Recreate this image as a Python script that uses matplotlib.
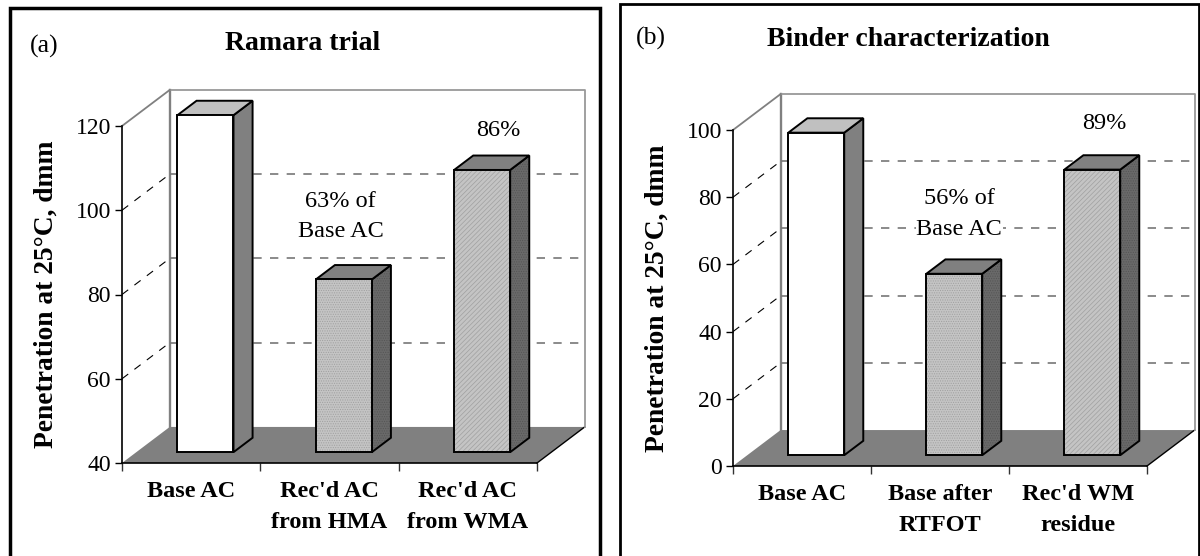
import matplotlib
matplotlib.use('Agg')
import matplotlib.pyplot as plt
from matplotlib.patches import Polygon, Rectangle

plt.rcParams['font.family'] = ['Liberation Serif', 'DejaVu Serif']
plt.rcParams['hatch.linewidth'] = 0.5

W, H = 1200, 556

labels_a = ["Base AC", "Rec'd AC\nfrom HMA", "Rec'd AC\nfrom WMA"]
values_a = [120, 81, 107]
ticks_a = [40, 60, 80, 100, 120]

labels_b = ["Base AC", "Base after\nRTFOT", "Rec'd WM\nresidue"]
values_b = [96, 54, 85]
ticks_b = [0, 20, 40, 60, 80, 100]

hatches = [None, '.......', '///////']
GRAY = '#808080'


def box(x0, y0, x1, y1):
    # pixel box (top-left origin) to figure fractions
    return [x0 / W, 1 - y1 / H, (x1 - x0) / W, (y1 - y0) / H]


def draw_panel(fig, rect, labels, values, ticks, gridvals):
    ax = fig.add_axes(box(*rect))
    ymin, ymax = ticks[0], ticks[-1]
    ax.set_xlim(0, 3)
    ax.set_ylim(ymin, ymax)
    ax.patch.set_alpha(0)
    dx = 0.345
    dy = 0.107 * (ymax - ymin)

    def P(x, v, d):
        return (x + d * dx, v + d * dy)

    def poly(pts, **kw):
        kw.setdefault('clip_on', False)
        ax.add_patch(Polygon(pts, closed=True, **kw))

    # floor
    poly([P(0, ymin, 0), P(3, ymin, 0), P(3, ymin, 1), P(0, ymin, 1)],
         facecolor=GRAY, edgecolor='none', zorder=1)
    ax.plot(*zip(P(3, ymin, 0), P(3, ymin, 1)), color='black', lw=1, clip_on=False, zorder=2)

    # back wall and top of the side wall
    ax.plot(*zip(P(0, ymin, 1), P(0, ymax, 1)), color=GRAY, lw=1.7, clip_on=False, zorder=2)
    ax.plot(*zip(P(0, ymax, 1), P(3, ymax, 1), P(3, ymin, 1)),
            color='#999999', lw=1.3, clip_on=False, zorder=2)
    ax.plot(*zip(P(0, ymax, 0), P(0, ymax, 1)), color=GRAY, lw=1.3, clip_on=False, zorder=2)

    # gridlines
    for v in gridvals:
        ax.plot(*zip(P(0, v, 1), P(3, v, 1)), color='#777777', lw=1.2,
                dashes=(5, 5), clip_on=False, zorder=2)
        ax.plot(*zip(P(0, v, 0), P(0, v, 1)), color='black', lw=0.8,
                dashes=(7, 7), clip_on=False, zorder=2)

    # bars
    w = 0.405
    d0, d1 = 0.3, 0.7
    for i, val in enumerate(values):
        x0 = i + 0.5 - w / 2
        x1 = i + 0.5 + w / 2
        front = [P(x0, ymin, d0), P(x1, ymin, d0), P(x1, val, d0), P(x0, val, d0)]
        side = [P(x1, ymin, d0), P(x1, ymin, d1), P(x1, val, d1), P(x1, val, d0)]
        top = [P(x0, val, d0), P(x1, val, d0), P(x1, val, d1), P(x0, val, d1)]
        if i == 0:
            poly(side, facecolor=GRAY, edgecolor='black', lw=1.4, zorder=4)
            poly(top, facecolor='#c0c0c0', edgecolor='black', lw=1.4, zorder=4)
            poly(front, facecolor='white', edgecolor='black', lw=1.4, zorder=5)
        else:
            poly(side, facecolor='#696969', edgecolor='#555555', hatch='.......', lw=0, zorder=4)
            poly(side, facecolor='none', edgecolor='black', lw=1.4, zorder=4)
            poly(top, facecolor=GRAY, edgecolor='black', lw=1.4, zorder=4)
            poly(front, facecolor='#c4c4c4', edgecolor='#a0a0a0', hatch=hatches[i], lw=0, zorder=5)
            poly(front, facecolor='none', edgecolor='black', lw=1.4, zorder=5)

    # axes
    for s in ['top', 'right']:
        ax.spines[s].set_visible(False)
    for s in ['left', 'bottom']:
        ax.spines[s].set_linewidth(1.2)
        ax.spines[s].set_zorder(3)
    ax.set_yticks(ticks)
    ax.tick_params(axis='y', labelsize=17, length=5, width=1, pad=3)
    ax.set_xticks([0, 1, 2, 3])
    ax.set_xticklabels([])
    ax.tick_params(axis='x', which='major', length=6, width=1, color='#333333')
    ax.set_xticks([0.5, 1.5, 2.5], labels, minor=True, fontweight='bold',
                  fontsize=17.5, linespacing=1.6)
    ax.tick_params(axis='x', which='minor', length=0, pad=13)
    ax.xaxis.set_tick_params(which='minor', labelsize=17.5)
    ax.set_ylabel('Penetration at 25°C, dmm', fontsize=19.8, fontweight='bold', labelpad=12)
    return ax


fig = plt.figure(figsize=(12, 5.56), dpi=100, facecolor='white')

# panel frames
for x0, y0, x1, y1, lw in [(9.5, 7.5, 599.5, 570, 2.5), (619.5, 4, 1198.5, 570, 2.0)]:
    fig.add_artist(Rectangle((x0 / W, 1 - y1 / H), (x1 - x0) / W, (y1 - y0) / H,
                             transform=fig.transFigure, fill=False,
                             edgecolor='black', lw=lw))

ax_a = draw_panel(fig, (122, 126, 537, 463), labels_a, values_a, ticks_a, [60, 80, 100])
ax_b = draw_panel(fig, (733, 130, 1147, 466), labels_b, values_b, ticks_b, [20, 40, 60, 80])

ax_a.text(1.58, 98.5, '63% of\nBase AC', ha='center', va='center', fontsize=17.5,
          linespacing=1.55, zorder=6)
ax_a.text(2.72, 119, '86%', ha='center', va='center', fontsize=17.5, zorder=6)
ax_b.text(1.64, 75, '56% of\nBase AC', ha='center', va='center', fontsize=17.5,
          linespacing=1.6, zorder=6, bbox=dict(facecolor='white', edgecolor='none', pad=0.5))
ax_b.text(2.69, 102, '89%', ha='center', va='center', fontsize=17.5, zorder=6)

fig.text(30 / W, 1 - 46 / H, '(a)', fontsize=18.5, va='center')
fig.text(303 / W, 1 - 44 / H, 'Ramara trial', fontsize=20, fontweight='bold', ha='center', va='center')
fig.text(636 / W, 1 - 38 / H, '(b)', fontsize=18.5, va='center')
fig.text(908 / W, 1 - 40 / H, 'Binder characterization', fontsize=20, fontweight='bold', ha='center', va='center')

fig.savefig('out.png', dpi=100)
